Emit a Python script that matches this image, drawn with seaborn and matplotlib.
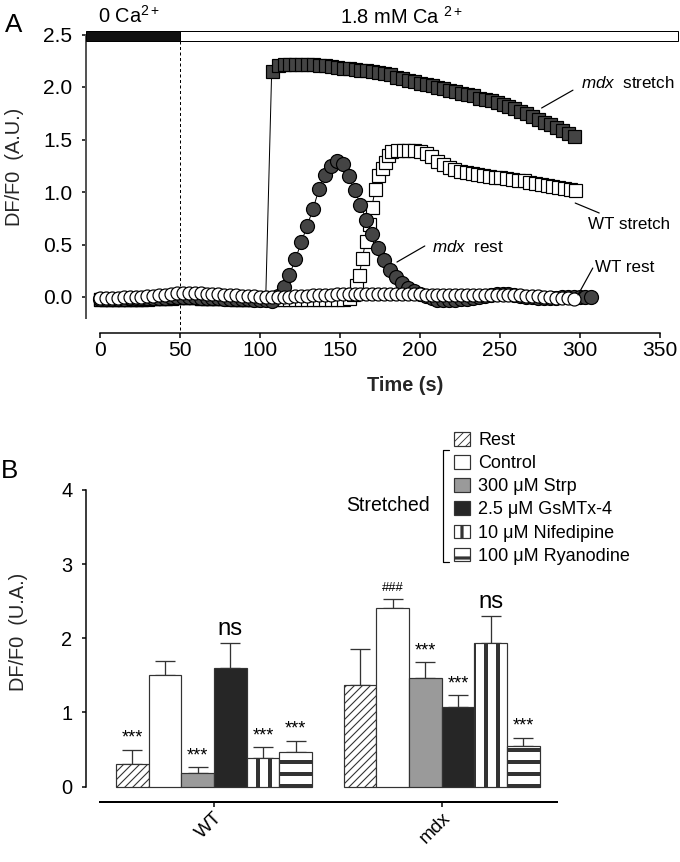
import numpy as np
import pandas as pd
import seaborn as sns
import matplotlib.pyplot as plt
from matplotlib.patches import Rectangle
from matplotlib.lines import Line2D

# ---- panel A: DF/F0 traces, one sample every 3.7 s ----
step = 3.7
wt_rest_y = [
    -0.01, -0.01, -0.01, -0.01, 0.00, 0.00, 0.00, 0.00, 0.01, 0.01,
    0.02, 0.02, 0.03, 0.04, 0.04, 0.04, 0.04, 0.04, 0.03, 0.03,
    0.03, 0.02, 0.02, 0.02, 0.01, 0.01, 0.01, 0.00, 0.00, 0.00,
    0.00, 0.00, 0.00, 0.01, 0.01, 0.01, 0.02, 0.02, 0.02, 0.02,
    0.03, 0.03, 0.03, 0.03, 0.03, 0.03, 0.03, 0.03, 0.03, 0.03,
    0.03, 0.03, 0.03, 0.03, 0.03, 0.02, 0.02, 0.02, 0.02, 0.02,
    0.02, 0.02, 0.02, 0.02, 0.02, 0.02, 0.02, 0.02, 0.02, 0.02,
    0.02, 0.02, 0.01, 0.01, 0.01, 0.00, 0.00, -0.01, -0.01, -0.01,
    -0.02,
]
mdx_rest_y = [
    -0.02, -0.02, -0.02, -0.02, -0.02, -0.01, -0.01, -0.01, -0.01, -0.01,
    -0.01, -0.01, 0.00, 0.00, 0.00, 0.00, 0.00, -0.01, -0.01, -0.01,
    -0.01, -0.02, -0.02, -0.02, -0.02, -0.02, -0.03, -0.03, -0.03, -0.04,
    0.01, 0.10, 0.21, 0.36, 0.52, 0.68, 0.84, 1.03, 1.16, 1.25,
    1.30, 1.27, 1.15, 1.02, 0.88, 0.73, 0.60, 0.47, 0.35, 0.26,
    0.19, 0.13, 0.09, 0.06, 0.03, 0.01, -0.01, -0.03, -0.03, -0.03,
    -0.03, -0.02, -0.02, -0.01, 0.00, 0.01, 0.02, 0.03, 0.03, 0.03,
    0.02, 0.01, 0.00, 0.00, -0.01, -0.01, -0.01, -0.01, 0.00, 0.00,
    0.00, 0.00, 0.00, 0.00,
]
mdx_stretch_y = [
    -0.02, -0.02, -0.02, -0.02, -0.02, -0.02, -0.02, -0.02, -0.01, -0.01,
    -0.01, -0.01, -0.01, 0.00, 0.00, 0.00, 0.00, -0.01, -0.01, -0.01,
    -0.01, -0.01, -0.01, -0.02, -0.02, -0.02, -0.02, -0.02, 0.00,
    2.15, 2.21, 2.22, 2.22, 2.22, 2.22, 2.22, 2.22, 2.21, 2.21,
    2.20, 2.19, 2.18, 2.18, 2.17, 2.16, 2.16, 2.15, 2.14, 2.13,
    2.12, 2.10, 2.09, 2.07, 2.06, 2.04, 2.03, 2.02, 2.00, 1.99,
    1.97, 1.96, 1.94, 1.93, 1.92, 1.90, 1.89, 1.88, 1.86, 1.84,
    1.82, 1.80, 1.77, 1.75, 1.72, 1.70, 1.67, 1.65, 1.62, 1.59,
    1.56, 1.53,
]
wt_stretch_base_y = [
    -0.02, -0.02, -0.02, -0.02, -0.02, -0.02, -0.02, -0.02, -0.02, -0.01,
    -0.01, -0.01, 0.00, 0.00, 0.00, 0.00, 0.00, -0.01, -0.01, -0.01,
    -0.01, -0.01, -0.02, -0.02, -0.02, -0.02, -0.02, -0.02, -0.02, -0.02,
    -0.02, -0.02, -0.02, -0.02, -0.02, -0.02, -0.02, -0.02, -0.02, -0.02,
    -0.02, -0.02, -0.01,
]
wt_stretch_rise_t = [158, 160, 162, 164, 166, 168, 170, 172, 174, 176, 178, 180, 182]
wt_stretch_rise_y = [0.03, 0.11, 0.21, 0.37, 0.53, 0.70, 0.86, 1.03, 1.16, 1.23, 1.29, 1.35, 1.39]
wt_stretch_tail_t = [
    185.5, 189.1, 192.7, 196.3, 199.9, 203.5, 207.1, 210.7, 214.3, 217.9,
    221.5, 225.1, 228.7, 232.3, 235.9, 239.5, 243.1, 246.7, 250.3, 253.9,
    257.5, 261.1, 264.7, 268.3, 271.9, 275.5, 279.1, 282.7, 286.3, 289.9,
    293.5, 297.1,
]
wt_stretch_tail_y = [
    1.40, 1.40, 1.40, 1.40, 1.39, 1.37, 1.34, 1.30, 1.27, 1.24,
    1.22, 1.20, 1.19, 1.18, 1.17, 1.16, 1.15, 1.14, 1.14, 1.13,
    1.12, 1.11, 1.11, 1.10, 1.09, 1.08, 1.07, 1.06, 1.05, 1.04,
    1.03, 1.02,
]

# ---- panel B: bar means and SEM ----
genotypes = ["WT", "mdx"]
conditions = ["Rest", "Control", "300 μM Strp", "2.5 μM GsMTx-4",
              "10 μM Nifedipine", "100 μM Ryanodine"]
wt_mean = [0.30, 1.50, 0.19, 1.60, 0.39, 0.47]
wt_sem = [0.20, 0.19, 0.07, 0.33, 0.14, 0.15]
mdx_mean = [1.37, 2.41, 1.47, 1.07, 1.93, 0.55]
mdx_sem = [0.48, 0.12, 0.21, 0.16, 0.37, 0.11]
wt_marks = ["***", "", "***", "ns", "***", "***"]
mdx_marks = ["", "###", "***", "***", "ns", "***"]

bar_colors = ["white", "white", "#9a9a9a", "#262626", "white", "white"]
bar_hatches = ["///", None, None, None, "|", "-"]
hatch_widths = [1.1, 1, 1, 1, 4, 4]

sns.set_style("ticks")
plt.rcParams["font.family"] = ["Liberation Sans", "DejaVu Sans"]
plt.rcParams["mathtext.fontset"] = "custom"
plt.rcParams["mathtext.rm"] = "Liberation Sans"
plt.rcParams["mathtext.it"] = "Liberation Sans:italic"
plt.rcParams["mathtext.bf"] = "Liberation Sans:bold"
plt.rcParams["text.color"] = "black"
plt.rcParams["axes.edgecolor"] = "black"
plt.rcParams["xtick.color"] = "black"
plt.rcParams["ytick.color"] = "black"
plt.rcParams["hatch.color"] = "black"

W, H = 680, 862
fig = plt.figure(figsize=(W / 72, H / 72), dpi=72)
axA = fig.add_axes([86 / W, 1 - 332.7 / H, 594 / W, 302.4 / H])
axB = fig.add_axes([86 / W, 1 - 801.5 / H, 594 / W, 313.8 / H])

# ---------------- panel A ----------------
wt_stretch_t = list(np.arange(len(wt_stretch_base_y)) * step) + wt_stretch_rise_t + wt_stretch_tail_t
wt_stretch_y = wt_stretch_base_y + wt_stretch_rise_y + wt_stretch_tail_y

traces = [
    (wt_stretch_t, wt_stretch_y, "s", "white", 13),
    (list(np.arange(len(mdx_stretch_y)) * step), mdx_stretch_y, "s", "#444444", 13),
    (list(np.arange(len(mdx_rest_y)) * step), mdx_rest_y, "o", "#444444", 14),
    (list(np.arange(len(wt_rest_y)) * step), wt_rest_y, "o", "white", 13),
]
for t, y, mk, fc, ms in traces:
    d = pd.DataFrame({"t": t, "y": y})
    sns.lineplot(data=d, x="t", y="y", ax=axA, color="black", lw=1,
                 marker=mk, markersize=ms, markerfacecolor=fc,
                 markeredgecolor="black", markeredgewidth=1.2)

axA.set_xlim(-8.75, 362.5)
axA.set_ylim(-0.34, 2.54)
axA.add_patch(Rectangle((-8.75, 2.44), 58.75, 0.09, fc="#111111", ec="black",
                        lw=1, clip_on=False, zorder=5))
axA.add_patch(Rectangle((50, 2.44), 311, 0.09, fc="white", ec="black",
                        lw=1, clip_on=False, zorder=5))
axA.plot([50, 50], [-0.31, 2.44], color="black", lw=1, ls=(0, (3, 2.5)), zorder=1)

axA.text(-1.25, 2.607, "0 Ca$^{2+}$", fontsize=20, va="baseline", clip_on=False)
axA.text(150, 2.60, "1.8 mM Ca $^{2+}$", fontsize=20, va="baseline", clip_on=False)

for (x0, y0, x1, y1) in [(276, 1.80, 295.6, 1.97), (297, 0.895, 312, 0.80),
                         (185.6, 0.333, 203, 0.486), (298.75, 0.02, 308, 0.276)]:
    axA.plot([x0, x1], [y0, y1], color="black", lw=1.2)
axA.text(300.4, 2.035, r"$\mathit{mdx}$  stretch", fontsize=17, va="center")
axA.text(305, 0.686, "WT stretch", fontsize=17, va="center")
axA.text(207.5, 0.48, r"$\mathit{mdx}$  rest", fontsize=17, va="center")
axA.text(309.4, 0.28, "WT rest", fontsize=17, va="center")

axA.spines[["top", "right"]].set_visible(False)
axA.spines["left"].set_bounds(-0.2, 2.5)
axA.spines["left"].set_color("#555555")
axA.spines["left"].set_linewidth(2)
axA.spines["bottom"].set_bounds(0, 350)
axA.spines["bottom"].set_linewidth(1.5)
axA.set_xticks(range(0, 351, 50))
yt = [0, 0.5, 1.0, 1.5, 2.0, 2.5]
axA.set_yticks(yt)
axA.set_yticklabels([f"{v:.1f}" for v in yt])
axA.tick_params(axis="y", length=4.5, width=1.5, labelsize=21, pad=9)
axA.tick_params(axis="x", length=4.5, width=1.5, labelsize=21, pad=4)
axA.set_xlabel("Time (s)", fontsize=20, fontweight="bold")
axA.set_ylabel("DF/F0  (A.U.)", fontsize=20)
axA.xaxis.set_label_coords(0.537, -0.142)
axA.yaxis.set_label_coords(-0.104, 0.548)

# ---------------- panel B ----------------
df = pd.DataFrame({
    "genotype": np.repeat(genotypes, len(conditions)),
    "condition": conditions * 2,
    "value": wt_mean + mdx_mean,
})
sns.barplot(data=df, x="genotype", y="value", hue="condition", order=genotypes,
            hue_order=conditions, palette=bar_colors, width=0.86, errorbar=None,
            saturation=1, edgecolor="#333333", linewidth=1.2, legend=False, ax=axB)
bar_conts = list(axB.containers)

sems = [wt_sem, mdx_sem]
marks = [wt_marks, mdx_marks]
for i, cont in enumerate(bar_conts):
    patches = sorted(cont.patches, key=lambda p: p.get_x())
    xs, tops, errs = [], [], []
    for j, p in enumerate(patches):
        if bar_hatches[i]:
            p.set_hatch(bar_hatches[i])
            if hasattr(p, "set_hatch_linewidth"):
                p.set_hatch_linewidth(hatch_widths[i])
        xs.append(p.get_x() + p.get_width() / 2)
        tops.append(p.get_height())
        errs.append(sems[j][i])
    axB.errorbar(xs, tops, yerr=[[0] * len(errs), errs], fmt="none", ecolor="#333333",
                 elinewidth=1.3, capsize=10, capthick=1.3, zorder=0.5)
    for j in range(len(xs)):
        m = marks[j][i]
        if not m:
            continue
        fs, off = {"***": (18, 3), "ns": (24, 3), "###": (13, 5)}[m]
        axB.annotate(m, (xs[j], tops[j] + errs[j]), xytext=(0, off),
                     textcoords="offset points", ha="center", va="bottom", fontsize=fs)

axB.set_xlim(-0.562, 2.047)
axB.set_ylim(-0.2, 4.03)
axB.spines[["top", "right"]].set_visible(False)
axB.spines["left"].set_bounds(0, 4)
axB.spines["bottom"].set_bounds(-0.5, 1.506)
axB.spines["left"].set_linewidth(1.5)
axB.spines["bottom"].set_linewidth(2)
axB.set_yticks([0, 1, 2, 3, 4])
axB.set_yticklabels(["0", "1", "2", "3", "4"])
axB.tick_params(axis="y", length=4.5, width=1.5, labelsize=20, pad=9)
axB.tick_params(axis="x", length=4.5, width=1.5, labelsize=19, pad=3)
for lab in axB.get_xticklabels():
    lab.set_rotation(45)
    lab.set_ha("right")
    lab.set_va("top")
    lab.set_rotation_mode("anchor")
axB.set_xlabel("")
axB.set_ylabel("DF/F0  (U.A.)", fontsize=20)
axB.yaxis.set_label_coords(-0.098, 0.539)

handles = [c.patches[0] for c in bar_conts]
leg = axB.legend(handles, conditions, loc="upper left", bbox_to_anchor=(454 / W, 1 - 432 / H),
                 bbox_transform=fig.transFigure, frameon=False, fontsize=18,
                 handlelength=0.9, handleheight=0.78, handletextpad=0.45,
                 labelspacing=0.34, borderpad=0, borderaxespad=0)
for i, h in enumerate(leg.legend_handles):
    if bar_hatches[i] and hasattr(h, "set_hatch_linewidth"):
        h.set_hatch_linewidth(hatch_widths[i] * 0.8)
fig.add_artist(Line2D([449 / W, 443 / W, 443 / W, 449 / W],
                      [1 - 450 / H, 1 - 450 / H, 1 - 562 / H, 1 - 562 / H],
                      color="black", lw=1.2))
fig.text(430 / W, 1 - 505.7 / H, "Stretched", ha="right", va="center", fontsize=19.5)

fig.text(5 / W, 1 - 32 / H, "A", fontsize=26, va="baseline")
fig.text(1 / W, 1 - 478 / H, "B", fontsize=26, va="baseline")

fig.savefig("out.png", dpi=72, facecolor="white")
